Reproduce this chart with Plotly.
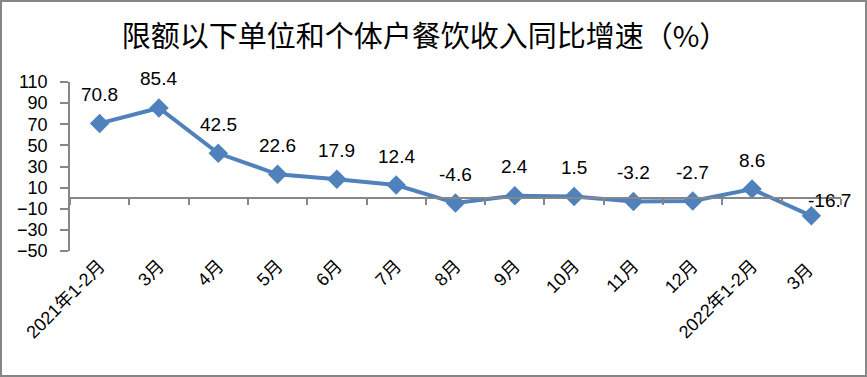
import plotly.graph_objects as go

categories = ["2021年1-2月", "3月", "4月", "5月", "6月", "7月", "8月", "9月",
              "10月", "11月", "12月", "2022年1-2月", "3月 "]
values = [70.8, 85.4, 42.5, 22.6, 17.9, 12.4, -4.6, 2.4, 1.5, -3.2, -2.7, 8.6, -16.7]
labels = ["70.8", "85.4", "42.5", "22.6", "17.9", "12.4", "-4.6", "2.4", "1.5",
          "-3.2", "-2.7", "8.6", "-16.7"]
y_ticks = [-50, -30, -10, 10, 30, 50, 70, 90, 110]
title = "限额以下单位和个体户餐饮收入同比增速（%）"

W, H = 867, 377
L, R, T, B = 70, 26, 82, 126
pw, ph = W - L - R, H - T - B
ymin, ymax = -50, 110

blue = "#4F81BD"
grey = "#868686"
font_family = "Liberation Sans, Noto Sans CJK SC, sans-serif"

fig = go.Figure()
fig.add_trace(go.Scatter(
    x=categories, y=values, mode="lines+markers",
    line=dict(color=blue, width=4),
    marker=dict(symbol="diamond", size=15, color=blue),
    cliponaxis=False, showlegend=False, xaxis="x", yaxis="y",
))
# invisible trace on the zero-line axis
fig.add_trace(go.Scatter(
    x=categories, y=values, mode="markers", marker=dict(opacity=0),
    showlegend=False, hoverinfo="skip", xaxis="x2", yaxis="y",
))

annotations = []
for i, (c, v, t) in enumerate(zip(categories, values, labels)):
    last = i == len(categories) - 1
    annotations.append(dict(
        x=c, y=v, xref="x", yref="y", text=t, showarrow=False,
        xshift=18 if last else 0, yshift=15 if last else 29,
        font=dict(size=19, color="black", family=font_family),
    ))

zero_pos = (0 - ymin) / (ymax - ymin)

fig.update_layout(
    width=W, height=H,
    margin=dict(l=L, r=R, t=T, b=B),
    paper_bgcolor="white", plot_bgcolor="white",
    title=dict(text=title, x=(425 - L) / pw, xref="paper", xanchor="center",
               y=1 - 37 / H, yref="container", yanchor="middle",
               font=dict(size=29, color="black", family="Noto Sans CJK SC")),
    annotations=annotations,
    xaxis=dict(type="category", categoryarray=categories, range=[-0.5, len(categories) - 0.5],
               showline=False, ticks="", showgrid=False, tickangle=-45,
               tickfont=dict(size=18, color="black", family=font_family)),
    xaxis2=dict(type="category", categoryarray=categories, range=[-0.5, len(categories) - 0.5],
                overlaying="x", anchor="free", position=zero_pos, side="bottom",
                showline=True, linecolor=grey, linewidth=1.5,
                ticks="outside", ticklen=6, tickcolor=grey, tickwidth=1.5,
                tickson="boundaries", showticklabels=False, showgrid=False),
    yaxis=dict(range=[ymin, ymax], tickvals=y_ticks, showgrid=False, zeroline=False,
               showline=True, linecolor=grey, linewidth=1.5,
               ticks="outside", ticklen=8, tickcolor=grey, tickwidth=1.5,
               ticklabelstandoff=9,
               tickfont=dict(size=18, color="black", family=font_family)),
    shapes=[dict(type="rect", xref="paper", yref="paper",
                 x0=(1 - L) / pw, x1=(W - L - 1) / pw,
                 y0=-(B - 1) / ph, y1=(H - B - 1) / ph,
                 line=dict(color=grey, width=2), fillcolor="rgba(0,0,0,0)", layer="below")],
)

fig.write_html("out.html")
